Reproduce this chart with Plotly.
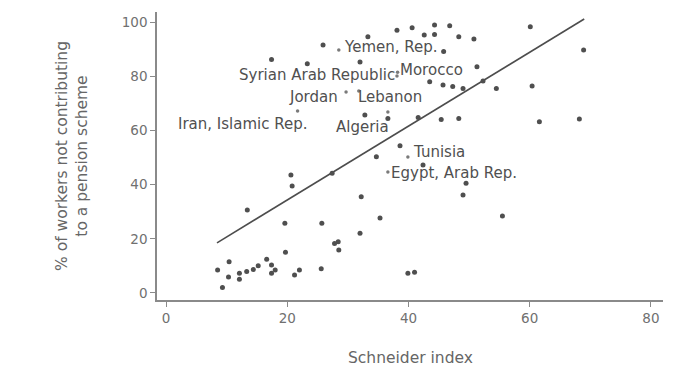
import plotly.graph_objects as go

# Schneider index vs. share of workers not contributing to a pension scheme
schneider = [
    38.1, 40.6, 42.6, 44.3, 44.3, 46.8, 48.3, 50.8, 60.1, 68.9,
    51.3, 45.8, 25.9, 33.3, 32.0, 23.3, 17.4, 43.5, 45.7, 47.3,
    49.0, 52.3, 54.5, 60.4, 41.6, 45.4, 48.3, 61.6, 68.2, 38.6,
    42.4, 49.5, 49.0, 55.5, 35.3, 39.9, 41.0, 20.6, 20.8, 13.4,
    27.4, 34.7, 32.2, 19.6, 25.7, 32.0, 28.4, 28.5, 27.8, 19.7,
    25.6, 22.0, 21.2, 8.5, 9.3, 10.4, 10.3, 12.1, 12.1, 13.3,
    14.4, 15.2, 16.6, 17.4, 18.0, 17.4, 36.6, 32.8,
]
not_contributing = [
    97.0, 97.9, 95.2, 98.9, 95.4, 98.6, 94.6, 93.7, 98.3, 89.7,
    83.5, 89.1, 91.5, 94.6, 85.2, 84.6, 86.2, 78.0, 76.8, 76.2,
    75.5, 78.2, 75.5, 76.4, 64.8, 64.0, 64.4, 63.2, 64.2, 54.3,
    47.2, 40.5, 36.2, 28.4, 27.7, 7.3, 7.6, 43.5, 39.5, 30.6,
    44.2, 50.3, 35.5, 25.7, 25.7, 22.0, 18.9, 15.9, 18.3, 15.0,
    8.9, 8.5, 6.6, 8.5, 2.0, 11.5, 5.9, 7.3, 5.1, 7.9,
    8.7, 10.0, 12.4, 10.3, 8.5, 7.3, 64.4, 65.7,
]

# Named MENA economies
countries = [
    "Yemen, Rep.", "Syrian Arab Republic", "Morocco", "Jordan", "Lebanon",
    "Iran, Islamic Rep.", "Algeria", "Tunisia", "Egypt, Arab Rep.",
]
country_x = [28.5, 38.1, 38.2, 29.7, 31.8, 21.7, 36.6, 39.9, 36.6]
country_y = [89.7, 80.1, 81.5, 74.2, 74.5, 67.2, 66.8, 50.2, 44.6]

# Fitted line end points
fit_x = [8.4, 69.0]
fit_y = [18.5, 101.1]

x_ticks = [0, 20, 40, 60, 80]
y_ticks = [0, 20, 40, 60, 80, 100]

# label placement: (anchor side, xshift, yshift) in pixels
label_place = {
    "Yemen, Rep.": ("left", 3, 3),
    "Syrian Arab Republic": ("right", 0, 1),
    "Morocco": ("left", 0, 2),
    "Jordan": ("right", -6, -5),
    "Lebanon": ("left", -3, -6),
    "Iran, Islamic Rep.": ("right", 12, -13),
    "Algeria": ("right", 3, -15),
    "Tunisia": ("left", 3, 5),
    "Egypt, Arab Rep.": ("left", 1, -1),
}

FONT = "DejaVu Sans"
DOT = "#4f4f4f"
AXIS = "#8a8a8a"
TICKTXT = "#707070"
TITLE = "#666666"
LABEL = "#505050"

fig = go.Figure()

fig.add_trace(go.Scatter(
    x=fit_x, y=fit_y, mode="lines",
    line=dict(color="#4d4d4d", width=1.6),
    hoverinfo="skip", showlegend=False,
))

fig.add_trace(go.Scatter(
    x=schneider, y=not_contributing, mode="markers",
    marker=dict(size=5, color=DOT),
    showlegend=False,
))

fig.add_trace(go.Scatter(
    x=country_x, y=country_y, mode="markers",
    marker=dict(size=3.5, color="#7a7a7a"),
    text=countries, showlegend=False,
))

for name, cx, cy in zip(countries, country_x, country_y):
    side, dx, dy = label_place[name]
    fig.add_annotation(
        x=cx, y=cy, xref="x", yref="y", text=name, showarrow=False,
        xanchor=side, yanchor="middle", xshift=dx, yshift=dy,
        font=dict(family=FONT, size=15, color=LABEL),
    )

fig.add_annotation(
    x=0.5, y=-0.2, xref="paper", yref="paper", text="Schneider index",
    showarrow=False, xanchor="center", yanchor="middle",
    font=dict(family=FONT, size=15.5, color=TITLE),
)
fig.add_annotation(
    x=-0.168, y=0.5, xref="paper", yref="paper",
    text="% of workers not contributing<br>to a pension scheme",
    showarrow=False, textangle=-90, xanchor="center", yanchor="middle",
    font=dict(family=FONT, size=15.5, color=TITLE),
)

axis_common = dict(
    showgrid=False, zeroline=False, showline=True,
    linecolor=AXIS, linewidth=1.5,
    ticks="outside", ticklen=5, tickwidth=1.2, tickcolor=AXIS,
    tickfont=dict(family=FONT, size=13.5, color=TICKTXT),
)

fig.update_xaxes(range=[-1.5, 82], tickvals=x_ticks, **axis_common)
fig.update_yaxes(range=[-2.6, 103.7], tickvals=y_ticks, **axis_common)

fig.update_layout(
    width=687, height=369,
    margin=dict(l=157, r=24, t=12, b=69),
    paper_bgcolor="white", plot_bgcolor="white",
)

fig.write_html("out.html")
